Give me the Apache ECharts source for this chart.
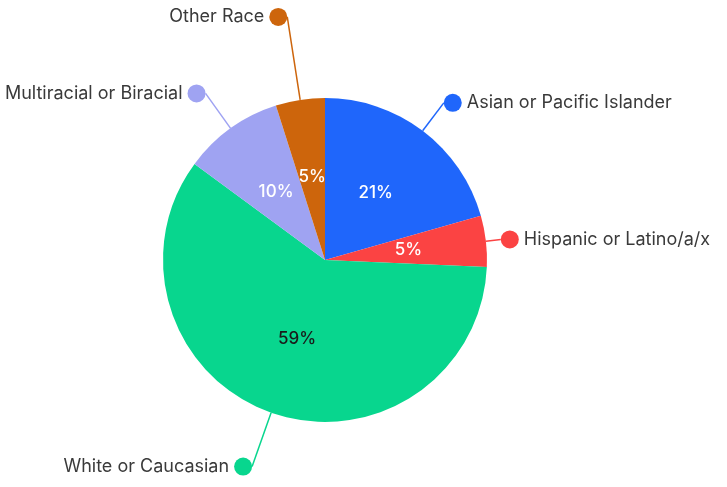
<!DOCTYPE html>
<html><head><meta charset="utf-8">
<script src="https://cdn.jsdelivr.net/npm/echarts@6/dist/echarts.min.js"></script>
<style>html,body{margin:0;padding:0;background:#fff}#c{width:727px;height:487px}</style>
</head><body><div id="c"></div>
<script>
const categories = ['Asian or Pacific Islander','Hispanic or Latino/a/x','White or Caucasian','Multiracial or Biracial','Other Race'];
const values = [20.6, 5.1, 59.4, 10.0, 4.9];

// styling / layout (not data)
const colors = ['#1f66fb','#fb4343','#08d68e','#9fa3f2','#cd650c'];
const innerTextColors = ['#ffffff','#ffffff','#1a1a1a','#ffffff','#ffffff'];
const leaderLengths = [35, 15, 57, 43, 84];
const font = 'Inter, "Noto Sans", sans-serif';

const total = values.reduce((a,b)=>a+b,0);
let cum = 0;
const sides = values.map(v => {
  const mid = (90 - 360 * (cum + v/2) / total) * Math.PI / 180;
  cum += v;
  return Math.cos(mid) >= 0 ? 'right' : 'left';
});

const outerData = categories.map((name, i) => ({
  name, value: values[i],
  itemStyle: { color: colors[i] },
  labelLine: { length: leaderLengths[i], length2: 0, lineStyle: { color: colors[i], width: 1.5 } },
  label: {
    formatter: sides[i] === 'right' ? '{dot| }{t|' + name + '}' : '{t|' + name + '}{dot| }',
    rich: {
      dot: { width: 18, height: 18, borderRadius: 9, backgroundColor: colors[i] },
      t: { fontFamily: font, fontSize: 18, color: '#3a3a3a', padding: sides[i] === 'right' ? [0,0,0,5] : [0,5,0,0] }
    }
  }
}));

const innerData = categories.map((name, i) => ({
  name, value: values[i],
  label: { color: innerTextColors[i] }
}));

const chart = echarts.init(document.getElementById('c'), null, { renderer: 'canvas' });
chart.setOption({
  animation: false,
  series: [
    {
      type: 'pie',
      center: [325, 260],
      radius: [0, 162],
      startAngle: 90,
      clockwise: true,
      avoidLabelOverlap: false,
      label: { show: true, position: 'outer', alignTo: 'none', distanceToLabelLine: 0 },
      labelLine: { show: true, smooth: false },
      data: outerData
    },
    {
      type: 'pie',
      center: [325, 260],
      radius: [0, 162],
      startAngle: 90,
      clockwise: true,
      silent: true,
      percentPrecision: 0,
      itemStyle: { color: 'rgba(0,0,0,0)', borderWidth: 0 },
      label: { show: true, position: 'inside', formatter: '{d}%', fontFamily: font, fontSize: 17, fontWeight: 500 },
      labelLine: { show: false },
      data: innerData
    }
  ]
});
</script>
</body></html>
